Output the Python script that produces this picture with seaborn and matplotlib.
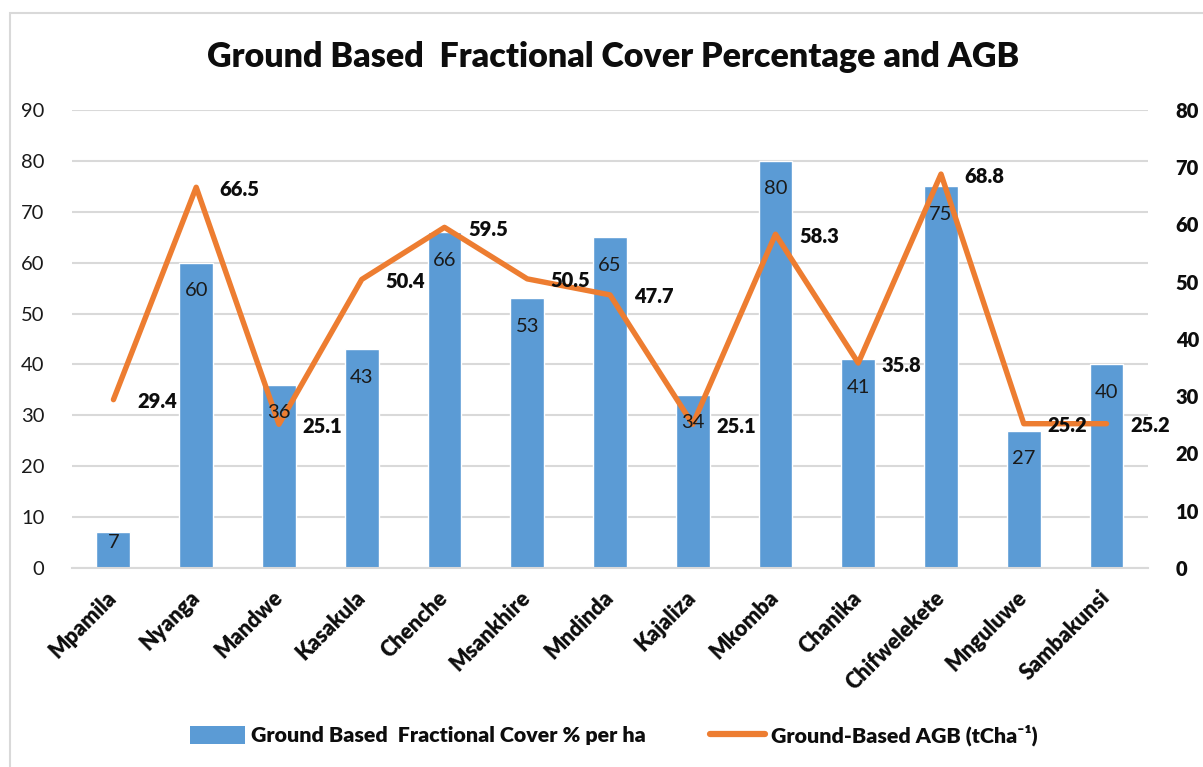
import matplotlib
matplotlib.use("Agg")
import matplotlib.pyplot as plt
from matplotlib.patches import Rectangle
from matplotlib.lines import Line2D
import seaborn as sns
import pandas as pd
import numpy as np

sites = ["Mpamila", "Nyanga", "Mandwe", "Kasakula", "Chenche", "Msankhire",
         "Mndinda", "Kajaliza", "Mkomba", "Chanika", "Chifwelekete",
         "Mnguluwe", "Sambakunsi"]
fractional_cover = [7, 60, 36, 43, 66, 53, 65, 34, 80, 41, 75, 27, 40]
agb = [29.4, 66.5, 25.1, 50.4, 59.5, 50.5, 47.7, 25.1, 58.3, 35.8, 68.8, 25.2, 25.2]
left_ticks = list(range(0, 91, 10))
right_ticks = list(range(0, 81, 10))

bar_label = "Ground Based  Fractional Cover % per ha"
line_label = "Ground-Based AGB (tCha\u207b\u00b9)"
title = "Ground Based  Fractional Cover Percentage and AGB"

BLUE = "#5B9BD5"
ORANGE = "#ED7D31"
GRID = "#D9D9D9"
INK = "#0D0D0D"
FONT = ["Lato", "DejaVu Sans"]

sns.set_theme(style="white")
plt.rcParams["font.family"] = FONT

df = pd.DataFrame({"site": sites, "cover": fractional_cover, "agb": agb})

fig = plt.figure(figsize=(12.03, 7.67), dpi=100)
ax = fig.add_axes([0.0599, 0.2595, 0.8943, 0.5971])

# outer chart frame
fig.patches.append(Rectangle((0.0083, -0.05), 1.2, 1.033, transform=fig.transFigure,
                             fill=False, edgecolor="#D9D9D9", linewidth=1.5, zorder=0))

sns.barplot(data=df, x="site", y="cover", color=BLUE, width=0.41, saturation=1,
            ax=ax, zorder=2)
ax.set_xlim(-0.5, len(sites) - 0.5)
ax.set_ylim(0, 90)
ax.set_yticks(left_ticks)
ax.yaxis.grid(True, color=GRID, linewidth=1.5, zorder=0)
ax.set_axisbelow(True)
for s in ["top", "right", "left"]:
    ax.spines[s].set_visible(False)
ax.spines["bottom"].set_color(GRID)
ax.spines["bottom"].set_linewidth(1.5)
ax.tick_params(axis="y", length=0, labelsize=14.5, labelcolor="#1A1A1A", pad=20)
ax.set_xlabel("")
ax.set_ylabel("")

ax2 = ax.twinx()
sns.lineplot(data=df, x="site", y="agb", color=ORANGE, linewidth=3.9, sort=False,
             ax=ax2, zorder=4)
ax2.set_ylim(0, 80)
ax2.set_yticks(right_ticks)
ax2.set_xlim(-0.5, len(sites) - 0.5)
for s in ["top", "right", "left", "bottom"]:
    ax2.spines[s].set_visible(False)
ax2.tick_params(axis="y", length=0, labelsize=14.5, pad=20)
for lab in ax2.get_yticklabels():
    lab.set_fontweight("heavy")
    lab.set_color(INK)
ax2.set_ylabel("")
ax2.set_xlabel("")
ax2.grid(False)
ax2.xaxis.set_visible(False)

# value labels inside the top of each bar, drawn above the line
px = 72.0 / fig.dpi
for i, v in enumerate(fractional_cover):
    bar_px = v / 90 * ax.get_position().height * fig.get_figheight() * fig.dpi
    drop = min(28, bar_px / 2 - 8)
    ax2.annotate(f"{v}", (i, v), xycoords=ax.transData,
                 xytext=(0, -drop * px), textcoords="offset points",
                 ha="center", va="center", fontsize=14.5, color="#1A1A1A", zorder=6)

for i, v in enumerate(agb):
    ax2.annotate(f"{v:.1f}", (i, v), xytext=(17, -1.5), textcoords="offset points",
                 ha="left", va="center", fontsize=14.5, fontweight="heavy",
                 color=INK, zorder=5)

fig.text(0.5095, 0.926, title, ha="center", va="center", fontsize=24.5,
         fontweight="heavy", color=INK)

handles = [Rectangle((0, 0), 1, 1, facecolor=BLUE, edgecolor="none"),
           Line2D([0], [0], color=ORANGE, linewidth=4.5)]
leg = fig.legend(handles, [bar_label, line_label], loc="center",
                 bbox_to_anchor=(0.51, 0.042), ncol=2, frameon=False,
                 handlelength=2.6, handleheight=0.9, handletextpad=0.25,
                 columnspacing=3.0, prop={"weight": "heavy", "size": 15.4})
for t in leg.get_texts():
    t.set_color(INK)

# category labels, rotated 45 degrees and anchored at their right end
ax.set_xticks(range(len(sites)))
ax.tick_params(axis="x", length=0, pad=19, labelrotation=45)
ax.set_xticklabels(sites, rotation=45, ha="right", va="center",
                   rotation_mode="anchor", fontsize=15.5, fontweight="heavy",
                   color=INK)

fig.savefig("out.png", dpi=100)
